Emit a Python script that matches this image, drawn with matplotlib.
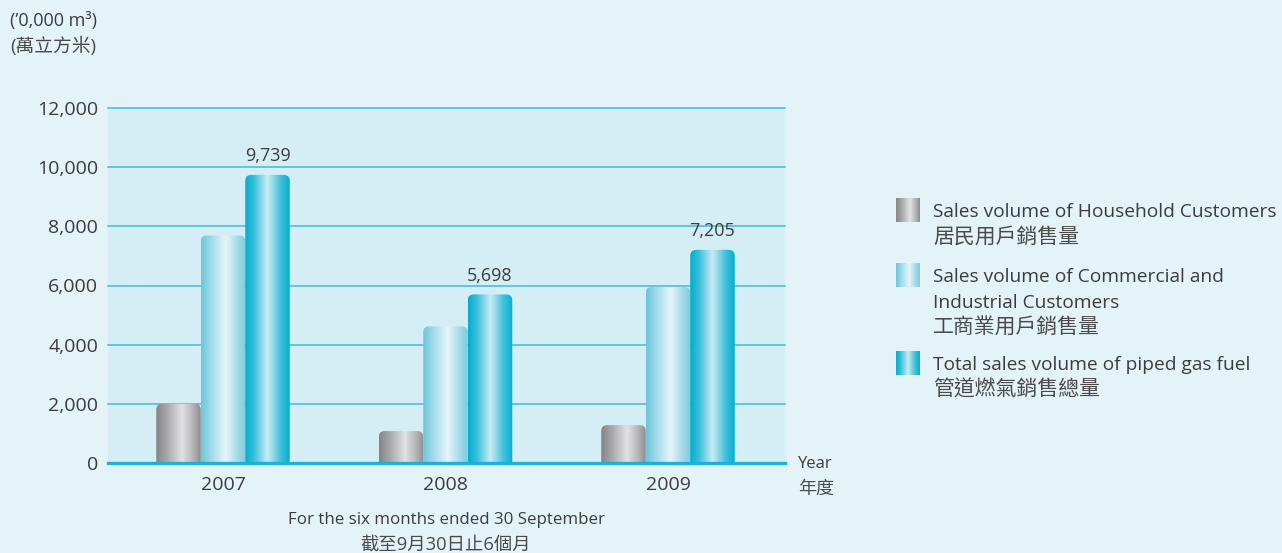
import numpy as np
import matplotlib
matplotlib.use('Agg')
import matplotlib.pyplot as plt
from matplotlib.path import Path
from matplotlib.patches import PathPatch
from matplotlib.colors import LinearSegmentedColormap

plt.rcParams['font.family'] = ['Open Sans', 'Noto Sans CJK TC', 'DejaVu Sans']

years = ['2007', '2008', '2009']
household = [2000, 1080, 1280]
commercial = [7690, 4620, 5950]
total = [9739, 5698, 7205]
yticks = [0, 2000, 4000, 6000, 8000, 10000, 12000]
legend_en = [
    ['Sales volume of Household Customers'],
    ['Sales volume of Commercial and', 'Industrial Customers'],
    ['Total sales volume of piped gas fuel'],
]
legend_zh = ['居民用戶銷售量', '工商業用戶銷售量', '管道燃氣銷售總量']

TXT = '#3c3c3c'
ZH_TXT = '#4a4a4a'
FIG_BG = '#e4f3f8'
AX_BG = '#d5edf5'
GRID = '#3ebcd8'

cmaps = [
    LinearSegmentedColormap.from_list('g', [(0, '#858587'), (0.25, '#a9a9ab'), (0.58, '#e2e2e4'), (0.85, '#b0b0b2'), (1, '#8c8c8e')]),
    LinearSegmentedColormap.from_list('c', [(0, '#6cc6dc'), (0.25, '#a6dcea'), (0.55, '#e6f5f9'), (0.8, '#a8dcea'), (1, '#7cccdf')]),
    LinearSegmentedColormap.from_list('t', [(0, '#00aed0'), (0.2, '#3bbfda'), (0.5, '#c9ebf3'), (0.8, '#3fc0db'), (1, '#00b0d0')]),
]

W, H = 1282, 553
fig = plt.figure(figsize=(W / 100, H / 100), dpi=100, facecolor=FIG_BG)
ax = fig.add_axes([108 / W, (H - 463) / H, (785 - 108) / W, (463 - 108) / H])
ax.set_facecolor(AX_BG)

x = np.arange(len(years))
bw = 0.2
xlim = (-0.517, 2.526)
ylim = (0, 12000)
ax.set_xlim(*xlim)
ax.set_ylim(*ylim)

for yv in yticks[1:]:
    ax.axhline(yv, color=GRID, lw=1.1, zorder=1, clip_on=False)

ax_w_px = 785 - 108
ax_h_px = 463 - 108
rpx = 6
rx = rpx * (xlim[1] - xlim[0]) / ax_w_px
ry = rpx * (ylim[1] - ylim[0]) / ax_h_px

grad = np.linspace(0, 1, 256).reshape(1, -1)
series = [household, commercial, total]
for si, vals in enumerate(series):
    bars = ax.bar(x + (si - 1) * bw, vals, width=bw, color='none', edgecolor='none', zorder=2)
    for b in bars:
        bx, bwid, bh = b.get_x(), b.get_width(), b.get_height()
        verts = [(bx, 0), (bx, bh - ry), (bx, bh), (bx + rx, bh), (bx + bwid - rx, bh),
                 (bx + bwid, bh), (bx + bwid, bh - ry), (bx + bwid, 0), (bx, 0)]
        codes = [Path.MOVETO, Path.LINETO, Path.CURVE3, Path.CURVE3, Path.LINETO,
                 Path.CURVE3, Path.CURVE3, Path.LINETO, Path.CLOSEPOLY]
        patch = PathPatch(Path(verts, codes), facecolor='none', edgecolor='none', transform=ax.transData)
        ax.add_patch(patch)
        im = ax.imshow(grad, cmap=cmaps[si], extent=(bx, bx + bwid, 0, bh), aspect='auto', zorder=3, interpolation='bilinear')
        im.set_clip_path(patch)
    if si == 2:
        for b, v in zip(bars, vals):
            ax.annotate(f'{v:,}', (b.get_x() + b.get_width() / 2, v), xytext=(0, 7), textcoords='offset points',
                        ha='center', va='bottom', fontsize=13, color=TXT)

ax.set_xlim(*xlim)
ax.set_ylim(*ylim)
ax.axhline(0, color='#1cb2d3', lw=2.4, zorder=5, clip_on=False)

for s in ax.spines.values():
    s.set_visible(False)
ax.set_xticks(x)
ax.set_xticklabels(years, fontsize=14, color=TXT)
ax.set_yticks(yticks)
ax.set_yticklabels([f'{v:,}' for v in yticks], fontsize=14, color=TXT)
ax.tick_params(length=0)
ax.tick_params(axis='x', pad=9)
ax.tick_params(axis='y', pad=7)

# overlay in pixel coords
ov = fig.add_axes([0, 0, 1, 1], facecolor='none')
ov.set_xlim(0, W)
ov.set_ylim(H, 0)
ov.axis('off')

ov.text(10, 21, '(’0,000 m³)', fontsize=13, color=TXT, va='center', ha='left')
ov.text(10, 46, '(萬立方米)', fontsize=13.5, color=ZH_TXT, va='center', ha='left')
ov.text(798, 464, 'Year', fontsize=12, color=TXT, va='center', ha='left')
ov.text(798, 489, '年度', fontsize=13, color=ZH_TXT, va='center', ha='left')
ov.text(446, 520, 'For the six months ended 30 September', fontsize=12.2, color=TXT, va='center', ha='center')
ov.text(446, 545, '截至9月30日止6個月', fontsize=13.2, color=ZH_TXT, va='center', ha='center')

leg_tops = [198, 263, 351]
for i, ty in enumerate(leg_tops):
    ov.imshow(grad, cmap=cmaps[i], extent=(896, 920, ty + 24, ty), aspect='auto', interpolation='bilinear')
    yy = ty + 14
    for line in legend_en[i]:
        ov.text(933, yy, line, fontsize=13.8, color=TXT, va='center', ha='left')
        yy += 25.5
    ov.text(933, yy, legend_zh[i], fontsize=15, color=ZH_TXT, va='center', ha='left')
ov.set_xlim(0, W)
ov.set_ylim(H, 0)

fig.savefig('out.png', dpi=100, facecolor=FIG_BG)
